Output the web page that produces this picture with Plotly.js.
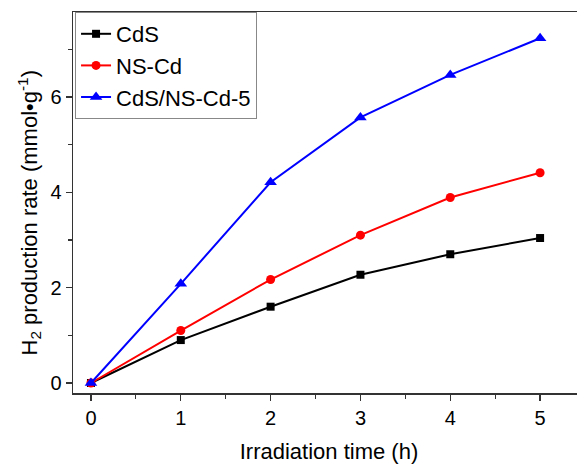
<!DOCTYPE html>
<html>
<head>
<meta charset="utf-8">
<script src="https://cdn.plot.ly/plotly-3.0.1.min.js"></script>
<style>
html,body{margin:0;padding:0;overflow:hidden;background:#fff;}
#chart{width:590px;height:465px;}
</style>
</head>
<body>
<div id="chart"></div>
<script>
const timeH = [0, 1, 2, 3, 4, 5];
const cdsValues = [0, 0.90, 1.60, 2.27, 2.70, 3.04];
const nsCdValues = [0, 1.10, 2.17, 3.10, 3.89, 4.41];
const compositeValues = [0, 2.08, 4.21, 5.57, 6.46, 7.23];
const seriesNames = ["CdS", "NS-Cd", "CdS/NS-Cd-5"];
const xTickVals = [0, 1, 2, 3, 4, 5];
const yTickVals = [0, 2, 4, 6];
const xTitle = "Irradiation time (h)";
const yTitle = "H<sub>2</sub> production rate (mmol•g<sup>-1</sup>)";

const font = "Liberation Sans, Arial, sans-serif";

const traces = [
  {x: timeH, y: cdsValues, name: seriesNames[0], mode: "lines+markers",
   line: {color: "#000000", width: 2}, marker: {symbol: "square", size: 8, color: "#000000"}},
  {x: timeH, y: nsCdValues, name: seriesNames[1], mode: "lines+markers",
   line: {color: "#ff0000", width: 2}, marker: {symbol: "circle", size: 9, color: "#ff0000"}},
  {x: timeH, y: compositeValues, name: seriesNames[2], mode: "lines+markers",
   line: {color: "#0000ff", width: 2}, marker: {symbol: "triangle-up", size: 11, color: "#0000ff"}}
];

const layout = {
  width: 590, height: 465,
  margin: {l: 73, r: 5, t: 12, b: 72},
  paper_bgcolor: "#fff", plot_bgcolor: "#fff",
  font: {family: font, size: 20, color: "#000"},
  showlegend: true,
  legend: {x: 0.004, y: 1.0, xanchor: "left", yanchor: "top",
    bgcolor: "#fff", bordercolor: "#888", borderwidth: 1,
    font: {family: font, size: 22, color: "#000"}, tracegroupgap: 0, itemwidth: 30},
  xaxis: {
    range: [-0.2, 5.5], tickvals: xTickVals, ticks: "outside", ticklen: 6, tickwidth: 1.3,
    tickcolor: "#333", showline: true, linecolor: "#333", linewidth: 1.5, mirror: true,
    showgrid: false, zeroline: false, tickfont: {size: 20},
    minor: {dtick: 0.5, tick0: 0, ticks: "outside", ticklen: 4, tickcolor: "#333", tickwidth: 1.2, showgrid: false},
    title: {text: xTitle, font: {size: 22}, standoff: 16}
  },
  yaxis: {
    range: [-0.21, 7.78], tickvals: yTickVals, ticks: "outside", ticklen: 6, tickwidth: 1.3,
    tickcolor: "#333", showline: true, linecolor: "#333", linewidth: 1.5, mirror: true,
    showgrid: false, zeroline: false, tickfont: {size: 20},
    minor: {dtick: 1, tick0: 0, ticks: "outside", ticklen: 4, tickcolor: "#333", tickwidth: 1.2, showgrid: false}
  },
  annotations: [{
    text: yTitle, textangle: -90, xref: "paper", yref: "paper",
    x: 0, y: 0.5, xanchor: "center", yanchor: "middle",
    xshift: -44, yshift: -10, showarrow: false, font: {size: 22, family: font}
  }]
};

Plotly.newPlot("chart", traces, layout, {staticPlot: true, displayModeBar: false});
</script>
</body>
</html>
